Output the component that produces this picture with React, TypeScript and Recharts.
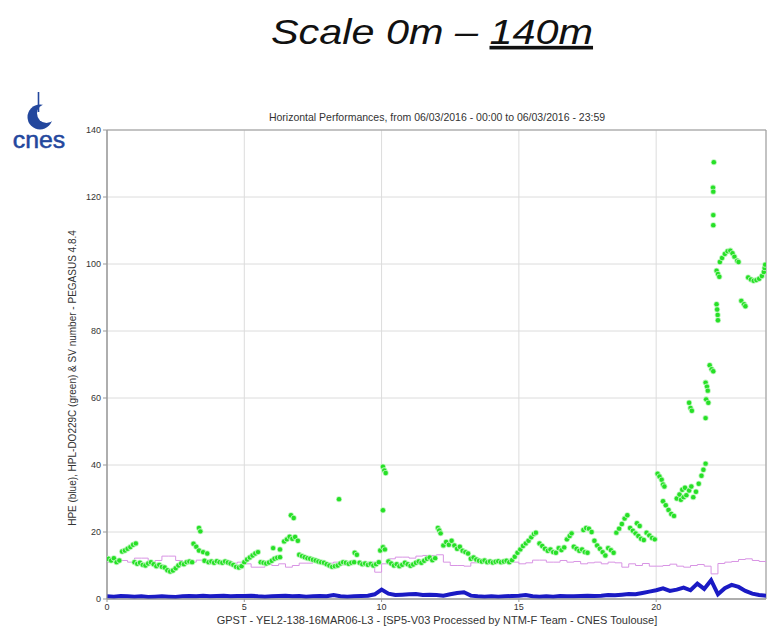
import React from "react";
import {
  ComposedChart,
  Line,
  Scatter,
  XAxis,
  YAxis,
  CartesianGrid,
  ReferenceArea,
} from "recharts";

// hours between two samples of the SV number / HPE series
const STEP_H = 0.25;

// SV number (purple step line), one value per quarter hour, 00:00 .. 24:00
const SV_NUMBER = [
  11, 11, 11.5, 11,
  12.2, 12.2, 11, 11.5,
  12.8, 12.8, 11.5, 11,
  11, 11.6, 11, 11,
  10.7, 11.5, 10.7, 11,
  10.5, 9.5, 9.5, 10.5,
  10, 10.5, 9.5, 10,
  10.7, 10.7, 11, 10.5,
  10.7, 11, 10.2, 10.7,
  11, 10.5, 11, 8,
  10.5, 12, 12.5, 12.5,
  12.2, 12.8, 13, 13,
  13.2, 11, 10, 10,
  9.8, 10.8, 11.2, 11,
  11, 10.8, 11.2, 11,
  10.5, 10.8, 11.6, 11.6,
  11, 11, 11.5, 11,
  11.2, 10.5, 10.8, 11,
  10.5, 11, 10.8, 9.5,
  10.5, 10, 10.6, 9.8,
  9.8, 10, 10.4, 9.8,
  9.5, 10, 10.3, 9.8,
  7.5, 10.6, 11, 11.2,
  11.8, 12, 11.5, 11.2,
  11,
];

// HPE (blue), one value per quarter hour
const HPE = [
  0.8, 0.7, 0.9, 0.8,
  0.7, 0.8, 0.6, 0.7,
  0.8, 0.7, 0.6, 0.8,
  0.9, 0.8, 1.0, 0.8,
  0.9, 1.0, 0.8, 0.9,
  0.9, 1.0, 0.8, 0.7,
  0.8, 0.9, 1.0, 0.8,
  0.9, 0.7, 0.8, 0.9,
  0.8, 1.2, 0.8, 0.7,
  0.8, 0.9, 1.0, 1.4,
  2.8, 1.6, 1.2, 1.3,
  1.4, 1.5, 1.2, 1.3,
  1.2, 1.0, 1.4, 1.8,
  2.0, 1.0, 0.8, 0.7,
  0.8, 0.7, 0.8, 0.9,
  1.0, 1.2, 0.8, 0.7,
  0.8, 0.7, 0.9, 0.8,
  0.8, 0.9, 1.0, 0.9,
  1.0, 1.2, 1.1, 1.3,
  1.5, 1.4, 1.8, 2.2,
  2.6, 3.2, 2.4, 2.8,
  3.4, 2.6, 4.6, 3.0,
  5.6, 1.4, 3.2, 4.2,
  3.6, 2.4, 1.6, 1.2,
  1.0,
];

// HPL-DO229C (green), [hour, metres] — gappy, drawn as dots
const HPL_POINTS: [number, number][] = [
  [0.05, 12], [0.15, 11.5], [0.25, 12.2], [0.35, 11], [0.45, 11.5],
  [0.55, 14.2], [0.65, 14.5], [0.75, 15], [0.85, 15.5], [0.95, 16.2], [1.05, 16.6],
  [1.0, 11], [1.1, 10.5], [1.2, 10.8], [1.3, 10.2], [1.4, 10], [1.5, 10.6], [1.6, 11],
  [1.7, 10.4], [1.8, 9.8], [1.9, 10.2], [2.0, 9.6], [2.1, 9.4],
  [2.2, 8.6], [2.3, 8.2], [2.4, 8.5], [2.5, 9.2],
  [2.6, 10], [2.7, 10.6], [2.8, 10.4], [2.9, 11], [3.0, 11.2], [3.1, 11],
  [3.15, 16.5], [3.25, 15.6], [3.35, 21.2], [3.4, 20.2],
  [3.35, 14.5], [3.5, 14], [3.65, 13.6],
  [3.55, 11.4], [3.7, 11], [3.8, 11.2], [3.9, 10.8], [4.0, 11.3], [4.1, 11], [4.2, 10.8],
  [4.3, 11.2], [4.4, 10.9], [4.5, 10.6],
  [4.6, 10.2], [4.7, 9.6], [4.8, 9.4], [4.9, 9.8],
  [5.0, 11], [5.1, 11.8], [5.2, 12.4], [5.3, 13], [5.4, 13.6], [5.5, 14],
  [5.6, 11], [5.7, 10.8], [5.8, 10.6], [5.9, 10.9], [6.0, 11.4], [6.1, 12], [6.2, 12.3], [6.3, 12.5],
  [6.05, 15.2], [6.3, 14.8],
  [6.45, 17.2], [6.55, 17.8], [6.65, 18.6], [6.75, 18], [6.85, 18.5], [6.95, 17.4],
  [6.7, 25], [6.8, 24.2],
  [7.0, 13.2], [7.1, 12.8], [7.2, 12.5], [7.3, 12.2], [7.4, 12], [7.5, 11.7], [7.6, 11.5],
  [7.7, 11.2], [7.8, 11], [7.9, 10.8],
  [8.0, 10.4], [8.1, 10], [8.2, 9.6], [8.3, 9.8], [8.4, 10],
  [8.45, 29.8],
  [8.5, 10.6], [8.6, 11], [8.7, 10.8], [8.8, 10.5], [8.9, 10.8], [9.0, 11],
  [9.02, 13.8], [9.1, 13.2],
  [9.2, 10.8], [9.3, 10.4], [9.4, 10.6], [9.5, 10.2], [9.6, 10.5], [9.7, 10], [9.8, 10.4], [9.9, 11],
  [10.05, 39.5], [10.1, 38.4], [10.15, 37.6], [10.05, 26.5],
  [9.95, 14.5], [10.05, 15.5], [10.12, 14.8],
  [10.25, 11.2], [10.35, 10.6], [10.45, 10], [10.55, 10.4], [10.65, 9.8], [10.75, 10.2],
  [10.85, 10.8], [10.95, 10.4], [11.05, 9.9], [11.15, 10.3], [11.25, 10.8], [11.35, 11.2],
  [11.45, 10.8], [11.55, 11.4], [11.65, 12], [11.75, 12.4], [11.85, 11.6], [11.95, 12.2],
  [12.05, 21.2], [12.1, 20.5], [12.15, 19.6],
  [12.25, 16], [12.35, 17], [12.45, 16.2], [12.55, 17.4], [12.65, 16], [12.75, 15],
  [12.85, 15.6], [12.95, 14.4], [13.05, 14], [13.15, 13.6],
  [13.25, 12], [13.35, 12.4], [13.45, 11.8], [13.55, 11.4], [13.65, 11.2], [13.75, 11.5],
  [13.85, 11], [13.95, 11.2], [14.05, 10.9], [14.15, 11.1], [14.25, 11.3], [14.35, 11],
  [14.45, 11.2], [14.55, 11.4], [14.65, 11], [14.75, 11.6],
  [14.85, 12.6], [14.95, 13.8], [15.05, 14.8],
  [15.15, 15.8], [15.25, 16.6], [15.35, 17.4], [15.45, 18.4], [15.55, 19.4], [15.62, 19.8],
  [15.75, 16.6], [15.85, 15.8], [15.95, 15], [16.05, 14.4], [16.15, 14.8], [16.25, 14], [16.35, 13.8],
  [16.45, 15.2], [16.55, 14.6], [16.65, 15.4],
  [16.75, 17.8], [16.85, 18.8], [16.92, 19.6],
  [17.0, 15.6], [17.1, 15], [17.2, 14.4], [17.3, 14.8], [17.4, 14], [17.5, 13.8],
  [17.35, 20.6], [17.45, 21.2], [17.55, 21], [17.65, 20],
  [17.75, 17.4], [17.85, 16], [17.95, 15], [18.05, 14], [18.15, 13],
  [18.25, 15.2], [18.35, 14.6], [18.45, 13.8],
  [18.55, 19.8], [18.65, 21], [18.75, 22.4], [18.85, 24], [18.95, 25],
  [19.05, 21.2], [19.15, 20.4], [19.25, 19.6], [19.35, 18.8], [19.45, 18], [19.55, 17.6],
  [19.3, 22.6], [19.4, 21.8],
  [19.65, 19.8], [19.75, 19], [19.85, 18.2], [19.95, 17.8],
  [20.05, 37.4], [20.12, 36.6], [20.2, 35.6], [20.25, 34.2], [20.3, 33.6],
  [20.25, 29.2], [20.35, 28], [20.45, 26.6], [20.55, 25.4], [20.65, 24.8],
  [20.75, 30], [20.85, 31.2], [20.95, 32.6], [21.05, 33.2],
  [20.9, 29.6], [21.0, 30.4], [21.1, 31], [21.2, 32.4], [21.28, 33.6],
  [21.35, 30.4], [21.45, 32], [21.55, 34.4], [21.65, 36.8], [21.72, 38.6], [21.8, 40.4],
  [21.2, 58.6], [21.25, 57], [21.3, 56.2],
  [21.8, 54],
  [21.82, 59.6], [21.9, 58.6],
  [21.8, 64.6], [21.85, 63.4], [21.88, 62.2],
  [21.95, 69.8], [22.02, 68.6], [22.08, 68],
  [22.2, 88], [22.22, 86.4], [22.24, 84.8], [22.25, 83.2],
  [22.2, 98], [22.25, 97], [22.3, 96.2],
  [22.32, 100.6], [22.4, 101.8], [22.5, 103], [22.6, 103.8], [22.7, 104], [22.78, 103.2],
  [22.85, 102.2], [22.95, 101], [23.0, 100.6],
  [22.07, 122.8], [22.08, 121.6], [22.08, 114.6], [22.08, 111.6], [22.1, 130.4],
  [23.1, 89], [23.2, 88], [23.25, 87.4],
  [23.35, 96], [23.45, 95.4], [23.55, 95], [23.65, 95.2], [23.75, 95.6], [23.85, 96.4],
  [23.92, 97.6], [23.95, 98.8], [23.97, 99.8],
];

const X_TICKS = [0, 5, 10, 15, 20];
const Y_TICKS = [0, 20, 40, 60, 80, 100, 120, 140];

const FONT = "'Liberation Sans', Arial, sans-serif";
const TICK = { fontSize: 9, fill: "#333", fontFamily: FONT };
const LOGO_BLUE = "#23479d";

const rows = HPE.map((v, i) => ({ t: i * STEP_H, hpe: v, sv: SV_NUMBER[i] }));
const hplRows = HPL_POINTS.map(([t, v]) => ({ t, hpl: v }));

function GreenDot(props: any) {
  const { cx, cy } = props;
  if (cx == null || cy == null) return null;
  return (
    <g>
      <circle cx={cx} cy={cy} r={3} fill="#b8f5b8" />
      <circle cx={cx} cy={cy} r={2.2} fill="#26e026" />
    </g>
  );
}

function CnesLogo() {
  return (
    <g>
      <circle cx={40} cy={117} r={12.5} fill={LOGO_BLUE} />
      <circle cx={46.5} cy={113.5} r={9.5} fill="#fff" />
      <line x1={38.5} y1={92} x2={38.5} y2={112} stroke={LOGO_BLUE} strokeWidth={1.6} />
      <text
        x={39}
        y={148}
        textAnchor="middle"
        fontSize={23}
        fill={LOGO_BLUE}
        fontFamily={FONT}
        stroke={LOGO_BLUE}
        strokeWidth={0.5}
        transform="translate(39 0) scale(1.08 1) translate(-39 0)"
      >
        cnes
      </text>
    </g>
  );
}

export default function App() {
  return (
    <div style={{ position: "absolute", left: 0, top: 0, width: 769, height: 630, background: "#fff" }}>
      <ComposedChart
        width={769}
        height={630}
        data={rows}
        margin={{ top: 130, right: 3, bottom: 13, left: 0 }}
      >
        <CartesianGrid stroke="#dcdcdc" />
        <XAxis
          dataKey="t"
          type="number"
          domain={[0, 24]}
          ticks={X_TICKS}
          allowDataOverflow
          height={18}
          tick={TICK}
          tickSize={3}
          tickMargin={2}
          stroke="#999"
        />
        <YAxis
          type="number"
          domain={[0, 140]}
          ticks={Y_TICKS}
          allowDataOverflow
          width={107}
          tick={TICK}
          tickSize={4}
          tickMargin={2}
          stroke="#999"
        />
        <ReferenceArea x1={0} x2={24} y1={0} y2={140} fill="none" stroke="#999" strokeWidth={1} />
        <Line
          type="stepAfter"
          dataKey="sv"
          stroke="#d894e4"
          strokeWidth={1}
          dot={false}
          isAnimationActive={false}
        />
        <Scatter data={hplRows} dataKey="hpl" shape={GreenDot} isAnimationActive={false} />
        <Line
          type="linear"
          dataKey="hpe"
          stroke="#1a1ac4"
          strokeWidth={4}
          dot={false}
          isAnimationActive={false}
        />
      </ComposedChart>
      <svg
        width={769}
        height={630}
        style={{ position: "absolute", left: 0, top: 0, pointerEvents: "none" }}
      >
        <text
          x={432}
          y={44}
          textAnchor="middle"
          fontSize={36}
          fontStyle="italic"
          fill="#111"
          fontFamily={FONT}
          transform="translate(432 0) scale(1.15 1) translate(-432 0)"
        >
          Scale 0m – <tspan style={{ textDecoration: "underline" }}>140m</tspan>
        </text>
        <CnesLogo />
        <text x={437} y={121} textAnchor="middle" fontSize={10.5} fill="#333" fontFamily={FONT}>
          Horizontal Performances, from 06/03/2016 - 00:00 to 06/03/2016 - 23:59
        </text>
        <text
          x={76}
          y={378}
          transform="rotate(-90 76 378)"
          textAnchor="middle"
          fontSize={10}
          fill="#333"
          fontFamily={FONT}
        >
          HPE (blue), HPL-DO229C (green) &amp; SV number - PEGASUS 4.8.4
        </text>
        <text x={437} y={624} textAnchor="middle" fontSize={11} fill="#333" fontFamily={FONT}>
          GPST - YEL2-138-16MAR06-L3 - [SP5-V03 Processed by NTM-F Team - CNES Toulouse]
        </text>
      </svg>
    </div>
  );
}
